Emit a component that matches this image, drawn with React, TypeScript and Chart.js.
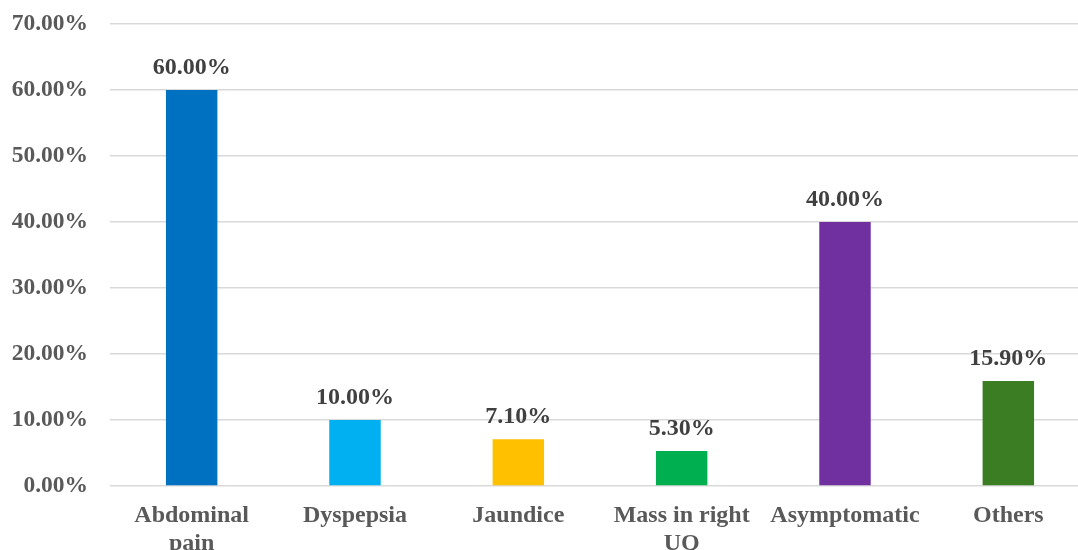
import React, { useEffect, useRef } from "react";
import { Chart, registerables } from "chart.js";

Chart.register(...registerables);

const categories: (string | string[])[] = [
  ["Abdominal", "pain"],
  "Dyspepsia",
  "Jaundice",
  ["Mass in right", "UQ"],
  "Asymptomatic",
  "Others",
];
const values = [60.0, 10.0, 7.1, 5.3, 40.0, 15.9];
const barColors = ["#0070C0", "#00B0F0", "#FFC000", "#00B050", "#7030A0", "#3B7D23"];
const yMin = 0;
const yMax = 70;
const yStep = 10;

const FONT = "'Liberation Serif', 'Times New Roman', serif";

const labelPlugin = {
  id: "valueLabels",
  afterDatasetsDraw(chart: any) {
    const ctx = chart.ctx;
    const meta = chart.getDatasetMeta(0);
    ctx.save();
    ctx.font = `bold 24px ${FONT}`;
    ctx.fillStyle = "#404040";
    ctx.textAlign = "center";
    ctx.textBaseline = "alphabetic";
    meta.data.forEach((bar: any, i: number) => {
      ctx.fillText(values[i].toFixed(2) + "%", bar.x, bar.y - 16);
    });
    ctx.restore();
  },
};

export default function App() {
  const ref = useRef<HTMLCanvasElement>(null);
  useEffect(() => {
    if (!ref.current) return;
    const chart = new Chart(ref.current, {
      type: "bar",
      data: {
        labels: categories,
        datasets: [
          {
            data: values,
            backgroundColor: barColors,
            barPercentage: 0.315,
            categoryPercentage: 1,
          },
        ],
      },
      options: {
        animation: false,
        responsive: false,
        layout: { padding: { top: 24, right: 0, left: 0, bottom: 0 } },
        plugins: { legend: { display: false }, tooltip: { enabled: false } },
        scales: {
          x: {
            grid: { display: false, drawTicks: false },
            border: { display: false },
            ticks: {
              color: "#595959",
              font: { family: FONT, size: 24, weight: "bold", lineHeight: 1.2 },
              padding: 15,
              maxRotation: 0,
              autoSkip: false,
            },
            afterFit: (scale: any) => {
              scale.height = 64;
            },
          },
          y: {
            min: yMin,
            max: yMax,
            grid: { color: "#D9D9D9", lineWidth: 1.5, drawTicks: false },
            border: { display: false },
            ticks: {
              stepSize: yStep,
              color: "#595959",
              font: { family: FONT, size: 23.5, weight: "bold" },
              padding: 22,
              callback: (v: any) => Number(v).toFixed(2) + "%",
            },
            afterFit: (scale: any) => {
              scale.width = 110;
              scale.paddingTop = 0;
              scale.paddingBottom = 0;
            },
          },
        },
      },
      plugins: [labelPlugin],
    });
    return () => chart.destroy();
  }, []);
  return (
    <div
      style={{
        position: "fixed",
        left: 0,
        top: 0,
        width: 1078,
        height: 550,
        overflow: "hidden",
        background: "#fff",
      }}
    >
      <canvas ref={ref} width={1090} height={550} style={{ display: "block" }} />
    </div>
  );
}
